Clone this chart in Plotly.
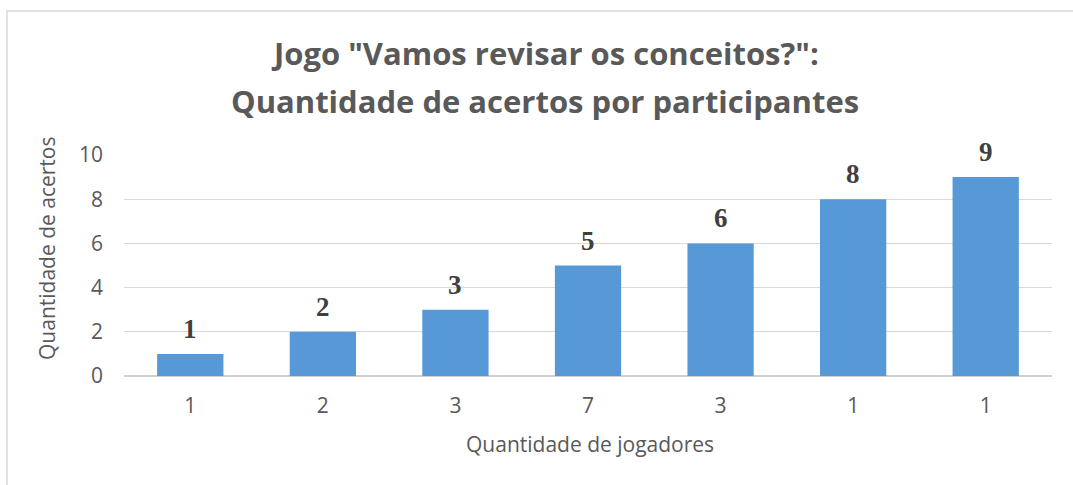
import plotly.graph_objects as go

# Data
jogadores = ["1", "2", "3", "7", "3", "1", "1"]   # x tick labels (Quantidade de jogadores)
acertos = [1, 2, 3, 5, 6, 8, 9]                  # bar values (Quantidade de acertos)
y_ticks = [0, 2, 4, 6, 8, 10]
title_lines = ['Jogo "Vamos revisar os conceitos?":', 'Quantidade de acertos por participantes']

positions = list(range(len(jogadores)))

W, H = 1073, 485
L, R, T, B = 124, 21, 155, 109
pw, ph = W - L - R, H - T - B

def px_x(p):
    return (p - L) / pw

def px_y(p):
    return (H - B - p) / ph

fig = go.Figure()
fig.add_trace(go.Bar(
    x=positions,
    y=acertos,
    width=0.5,
    marker=dict(color="#5799d7", line=dict(width=0)),
    hoverinfo="x+y",
))

# data labels
for p, v in zip(positions, acertos):
    fig.add_annotation(
        x=p, y=v, xref="x", yref="y", text=str(v), showarrow=False,
        yanchor="bottom", yshift=8,
        font=dict(family="Liberation Serif", size=27, color="#404040", weight="bold"),
    )

fig.update_layout(
    width=W, height=H,
    margin=dict(l=L, r=R, t=T, b=B),
    paper_bgcolor="white",
    plot_bgcolor="white",
    showlegend=False,
    font=dict(family="Open Sans", color="#595959"),
    xaxis=dict(
        tickmode="array", tickvals=positions, ticktext=jogadores,
        range=[-0.5, len(jogadores) - 0.5],
        showgrid=False, zeroline=False, showline=False,
        ticks="", tickfont=dict(size=21, color="#595959"),
        ticklabelstandoff=15,
    ),
    yaxis=dict(
        range=[0, 10], tickvals=y_ticks,
        showgrid=True, gridcolor="#d9d9d9", gridwidth=1.3,
        zeroline=True, zerolinecolor="#d0d0d0", zerolinewidth=1.5,
        showline=False, ticks="",
        tickfont=dict(size=21, color="#595959"),
        ticklabelstandoff=20,
    ),
)

for line, yc in zip(title_lines, [53, 101]):
    fig.add_annotation(
        text=line, xref="paper", yref="paper", x=px_x(545), y=px_y(yc),
        xanchor="center", yanchor="middle", showarrow=False,
        font=dict(family="Open Sans", size=31, color="#595959", weight="bold"),
    )

fig.add_annotation(
    text="Quantidade de acertos", textangle=-90,
    xref="paper", yref="paper", x=px_x(47), y=px_y(249),
    xanchor="center", yanchor="middle",
    showarrow=False, font=dict(family="Open Sans", size=21, color="#595959"),
)
fig.add_annotation(
    text="Quantidade de jogadores",
    xref="paper", yref="paper", x=px_x(590), y=px_y(444),
    xanchor="center", yanchor="middle",
    showarrow=False, font=dict(family="Open Sans", size=21, color="#595959"),
)

# chart border
fig.add_shape(
    type="rect", xref="paper", yref="paper",
    x0=px_x(7), x1=px_x(W + 20), y0=px_y(H + 20), y1=px_y(11),
    line=dict(color="#d9d9d9", width=1.5), fillcolor="rgba(0,0,0,0)", layer="below",
)

fig.write_html(
    "out.html",
    config={"displayModeBar": False},
    post_script="document.body.style.margin='0';document.body.style.overflow='hidden';",
)
